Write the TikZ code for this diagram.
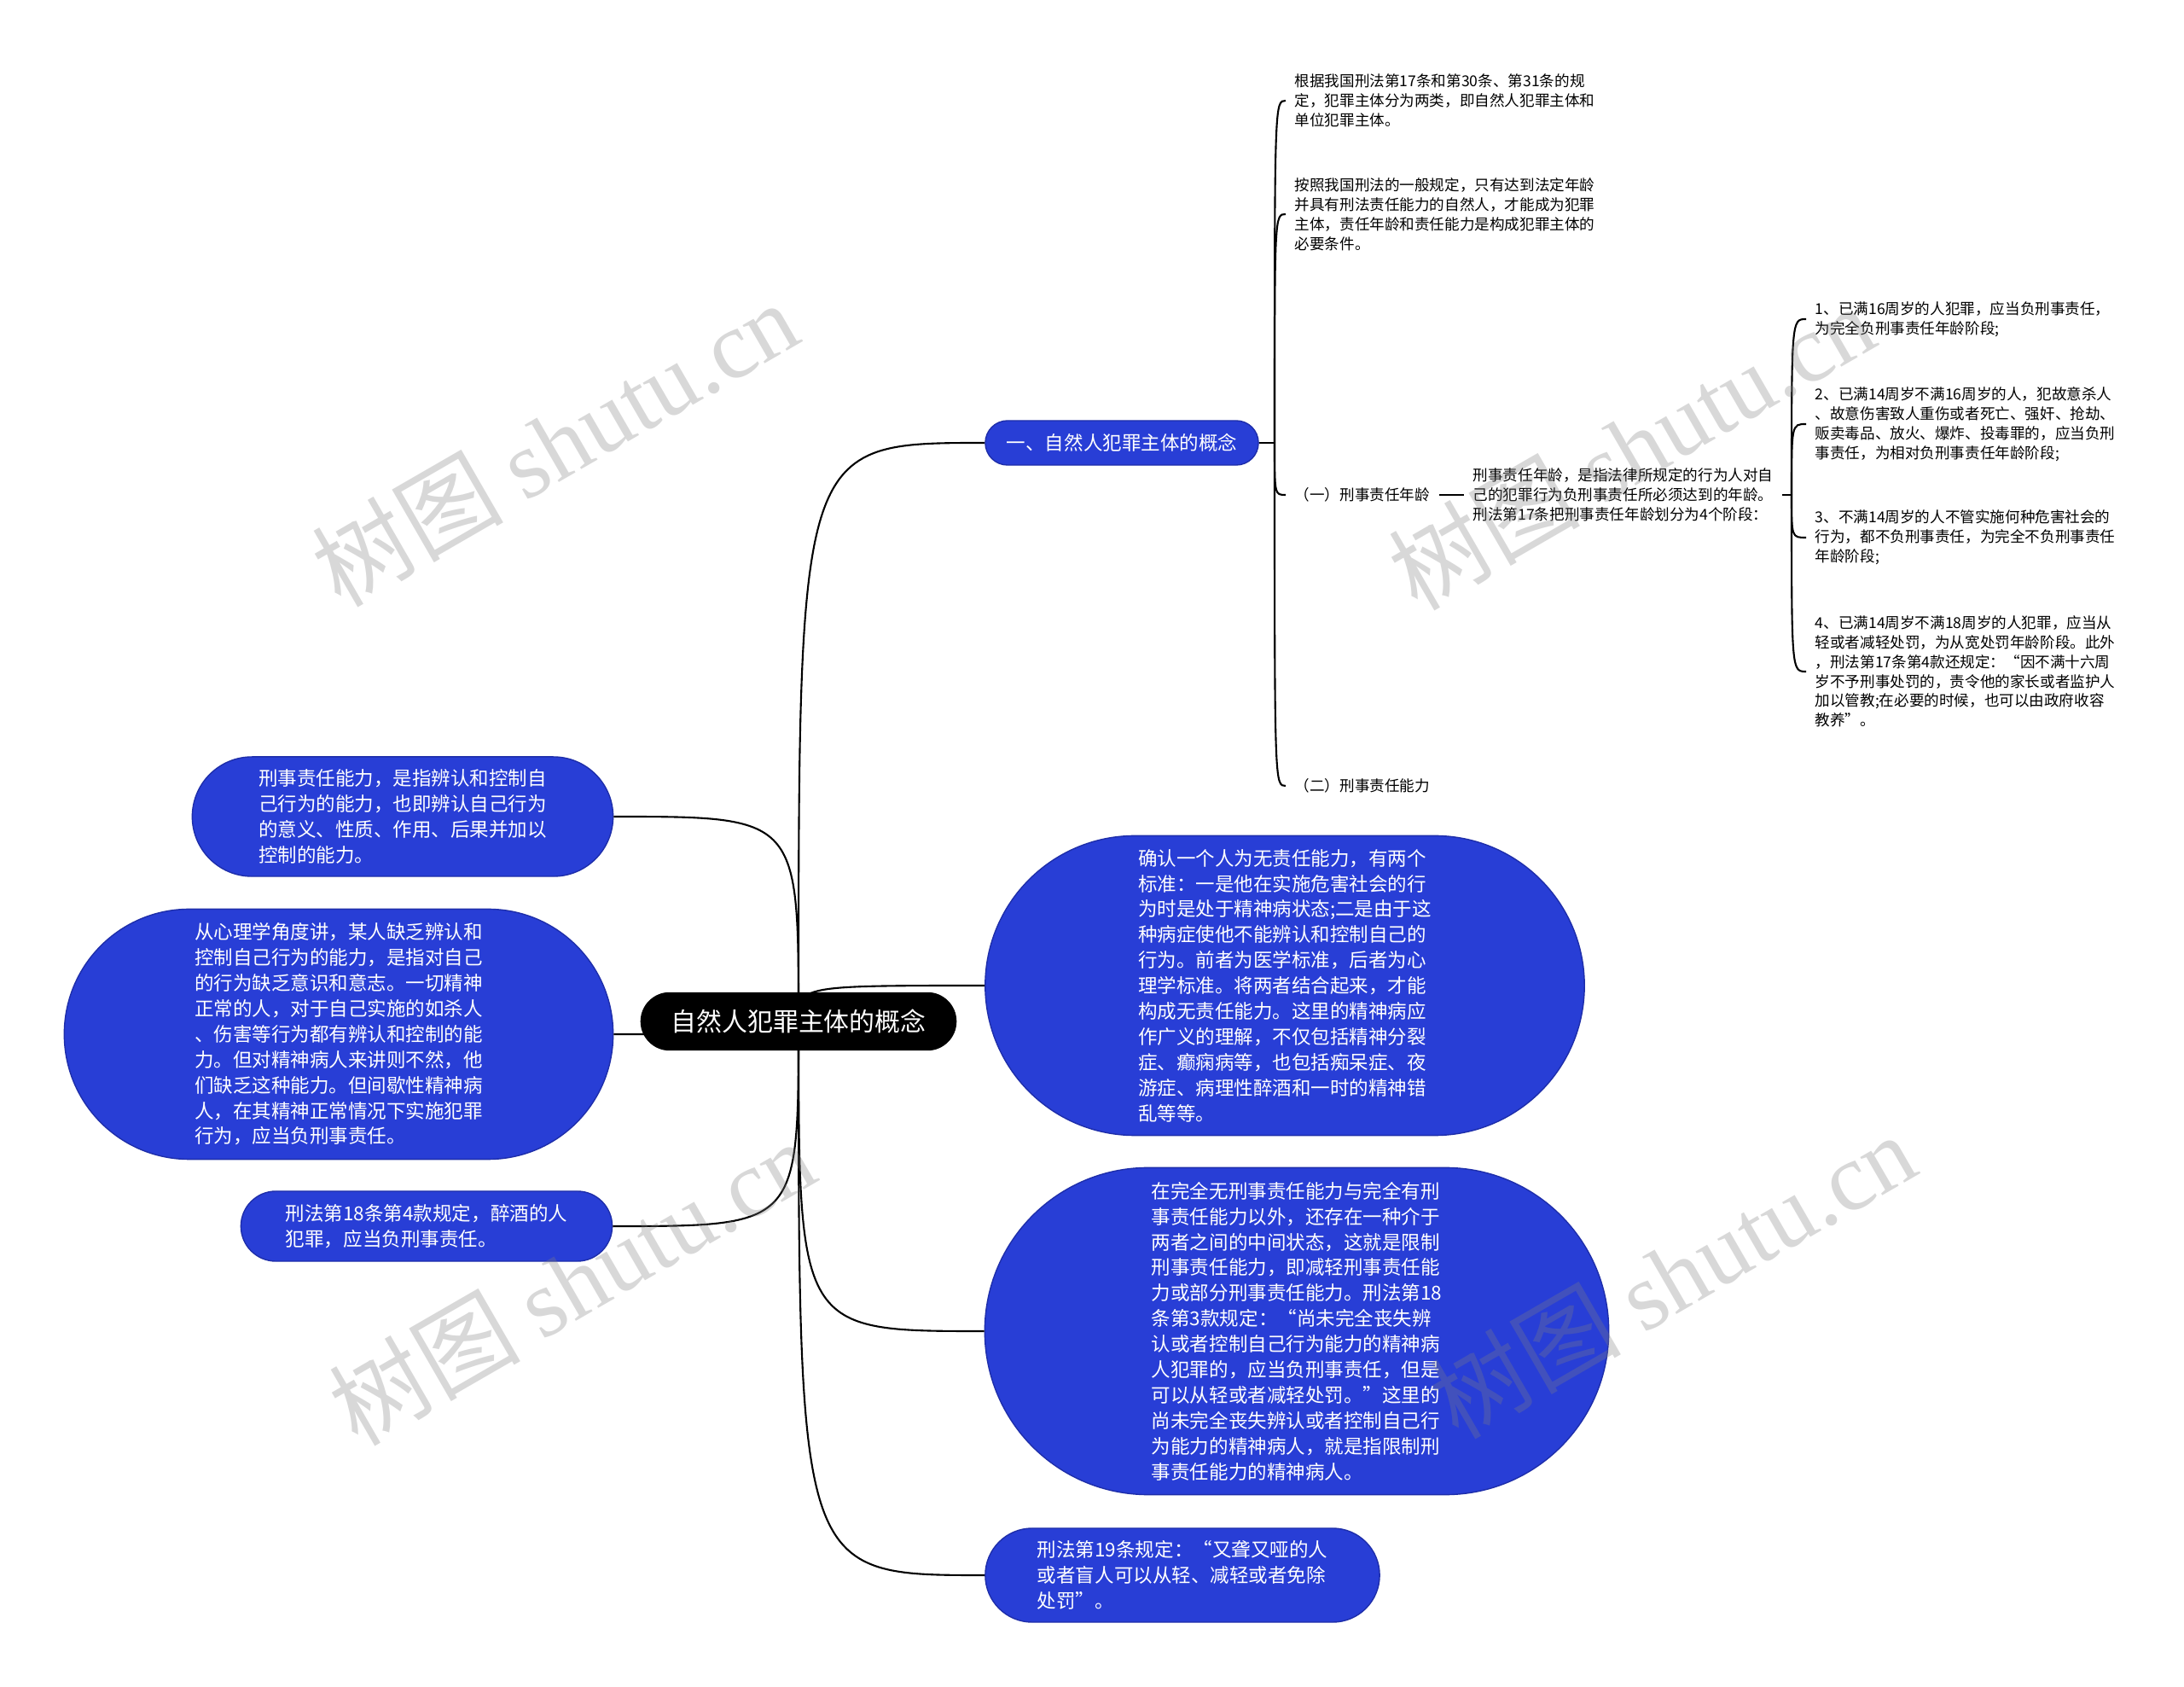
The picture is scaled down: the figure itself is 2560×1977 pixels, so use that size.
\documentclass[tikz,border=0pt]{standalone}
\usepackage{fontspec}
\setmainfont{Noto Sans CJK SC}
\newfontfamily\markserif{Liberation Serif}
\usetikzlibrary{positioning}
\definecolor{mapblue}{RGB}{40,62,214}
\definecolor{mapedge}{RGB}{30,46,170}
\newcommand\rootsize{\fontsize{8.5pt}{10pt}\selectfont}
\newcommand\topicsize{\fontsize{6.4pt}{8.5pt}\selectfont}
\newcommand\leafsize{\fontsize{5pt}{6.5pt}\selectfont}
\tikzset{
  rootnode/.style={draw=black, fill=black, text=white, font=\rootsize, minimum width=3.69cm, minimum height=0.67cm, rounded corners=0.335cm},
  topicnode/.style={draw=mapedge, thin, fill=mapblue, text=white, align=left, font=\topicsize},
  leafnode/.style={anchor=west, align=left, font=\leafsize, inner xsep=0.1cm},
  branch/.style={line width=0.6pt, black},
  wmark/.style={rotate=30, text=gray, opacity=0.3, font=\fontsize{32pt}{36pt}\selectfont}
}

\begin{document}
\begin{tikzpicture}[x=0.01cm, y=-0.01cm, every node/.style={inner sep=0pt}]
  \fill[white] (0,0) rectangle (2560,1977);
  \useasboundingbox (0,0) rectangle (2560,1977);
  \coordinate (hub) at (936,1197);

  % left side
  \node[topicnode, minimum width=4.93cm, minimum height=1.40cm, rounded corners=0.70cm] (ability) at (472,957)
    {刑事责任能力，是指辨认和控制自\\己行为的能力，也即辨认自己行为\\的意义、性质、作用、后果并加以\\控制的能力。};
  \node[topicnode, minimum width=6.43cm, minimum height=2.93cm, rounded corners=1.465cm] (psych) at (397,1212)
    {从心理学角度讲，某人缺乏辨认和\\控制自己行为的能力，是指对自己\\的行为缺乏意识和意志。一切精神\\正常的人，对于自己实施的如杀人\\、伤害等行为都有辨认和控制的能\\力。但对精神病人来讲则不然，他\\们缺乏这种能力。但间歇性精神病\\人，在其精神正常情况下实施犯罪\\行为，应当负刑事责任。};
  \node[topicnode, minimum width=4.35cm, minimum height=0.82cm, rounded corners=0.41cm] (drunk) at (500,1437)
    {刑法第18条第4款规定，醉酒的人\\犯罪，应当负刑事责任。};

  % right side
  \node[topicnode, minimum width=3.20cm, minimum height=0.52cm, rounded corners=0.26cm] (concept) at (1315,519)
    {一、自然人犯罪主体的概念};
  \node[topicnode, minimum width=7.02cm, minimum height=3.51cm, rounded corners=1.755cm] (insane) at (1506,1155)
    {确认一个人为无责任能力，有两个\\标准：一是他在实施危害社会的行\\为时是处于精神病状态;二是由于这\\种病症使他不能辨认和控制自己的\\行为。前者为医学标准，后者为心\\理学标准。将两者结合起来，才能\\构成无责任能力。这里的精神病应\\作广义的理解，不仅包括精神分裂\\症、癫痫病等，也包括痴呆症、夜\\游症、病理性醉酒和一时的精神错\\乱等等。};
  \node[topicnode, minimum width=7.31cm, minimum height=3.83cm, rounded corners=1.915cm] (limited) at (1520,1560)
    {在完全无刑事责任能力与完全有刑\\事责任能力以外，还存在一种介于\\两者之间的中间状态，这就是限制\\刑事责任能力，即减轻刑事责任能\\力或部分刑事责任能力。刑法第18\\条第3款规定：“尚未完全丧失辨\\认或者控制自己行为能力的精神病\\人犯罪的，应当负刑事责任，但是\\可以从轻或者减轻处罚。”这里的\\尚未完全丧失辨认或者控制自己行\\为能力的精神病人，就是指限制刑\\事责任能力的精神病人。};
  \node[topicnode, minimum width=4.62cm, minimum height=1.10cm, rounded corners=0.55cm] (deaf) at (1386,1846)
    {刑法第19条规定：“又聋又哑的人\\或者盲人可以从轻、减轻或者免除\\处罚”。};

  % second level
  \coordinate (fork) at (1494,519);
  \node[leafnode] (types) at (1507,118)
    {根据我国刑法第17条和第30条、第31条的规\\定，犯罪主体分为两类，即自然人犯罪主体和\\单位犯罪主体。};
  \node[leafnode] (rule) at (1507,251)
    {按照我国刑法的一般规定，只有达到法定年龄\\并具有刑法责任能力的自然人，才能成为犯罪\\主体，责任年龄和责任能力是构成犯罪主体的\\必要条件。};
  \node[leafnode] (age) at (1507,580) {（一）刑事责任年龄};
  \node[leafnode] (capacity) at (1507,921) {（二）刑事责任能力};
  \node[leafnode] (agedef) at (1716,580)
    {刑事责任年龄，是指法律所规定的行为人对自\\己的犯罪行为负刑事责任所必须达到的年龄。\\刑法第17条把刑事责任年龄划分为4个阶段：};

  % age stages
  \coordinate (stagefork) at (2100,580);
  \node[leafnode] (stage1) at (2117,374)
    {1、已满16周岁的人犯罪，应当负刑事责任，\\为完全负刑事责任年龄阶段;};
  \node[leafnode] (stage2) at (2117,497)
    {2、已满14周岁不满16周岁的人，犯故意杀人\\、故意伤害致人重伤或者死亡、强奸、抢劫、\\贩卖毒品、放火、爆炸、投毒罪的，应当负刑\\事责任，为相对负刑事责任年龄阶段;};
  \node[leafnode] (stage3) at (2117,630)
    {3、不满14周岁的人不管实施何种危害社会的\\行为，都不负刑事责任，为完全不负刑事责任\\年龄阶段;};
  \node[leafnode] (stage4) at (2117,787)
    {4、已满14周岁不满18周岁的人犯罪，应当从\\轻或者减轻处罚，为从宽处罚年龄阶段。此外\\，刑法第17条第4款还规定：“因不满十六周\\岁不予刑事处罚的，责令他的家长或者监护人\\加以管教;在必要的时候，也可以由政府收容\\教养”。};

  % connectors
  \draw[branch] (hub) .. controls (hub |- ability.east) .. (ability.east);
  \draw[branch] (hub) .. controls (hub |- psych.east) .. (psych.east);
  \draw[branch] (hub) .. controls (hub |- drunk.east) .. (drunk.east);
  \draw[branch] (hub) .. controls (hub |- concept.west) .. (concept.west);
  \draw[branch] (hub) .. controls (hub |- insane.west) .. (insane.west);
  \draw[branch] (hub) .. controls (hub |- limited.west) .. (limited.west);
  \draw[branch] (hub) .. controls (hub |- deaf.west) .. (deaf.west);

  \draw[branch] (concept.east) -- (fork);
  \draw[branch] (fork) .. controls (fork |- types.west) .. (types.west);
  \draw[branch] (fork) .. controls (fork |- rule.west) .. (rule.west);
  \draw[branch] (fork) .. controls (fork |- age.west) .. (age.west);
  \draw[branch] (fork) .. controls (fork |- capacity.west) .. (capacity.west);
  \draw[branch] (age.east) -- (agedef.west);

  \draw[branch] (agedef.east) -- (stagefork);
  \draw[branch] (stagefork) .. controls (stagefork |- stage1.west) .. (stage1.west);
  \draw[branch] (stagefork) .. controls (stagefork |- stage2.west) .. (stage2.west);
  \draw[branch] (stagefork) .. controls (stagefork |- stage3.west) .. (stage3.west);
  \draw[branch] (stagefork) .. controls (stagefork |- stage4.west) .. (stage4.west);

  \node[rootnode] (root) at (hub) {自然人犯罪主体的概念};

  % watermark
  \node[wmark] (wm1) at (650,519) {树图 {\markserif shutu.cn}};
  \node[wmark] (wm2) at (1912,523) {树图 {\markserif shutu.cn}};
  \node[wmark] (wm3) at (670,1502) {树图 {\markserif shutu.cn}};
  \node[wmark] (wm4) at (1960,1494) {树图 {\markserif shutu.cn}};
\end{tikzpicture}
\end{document}
